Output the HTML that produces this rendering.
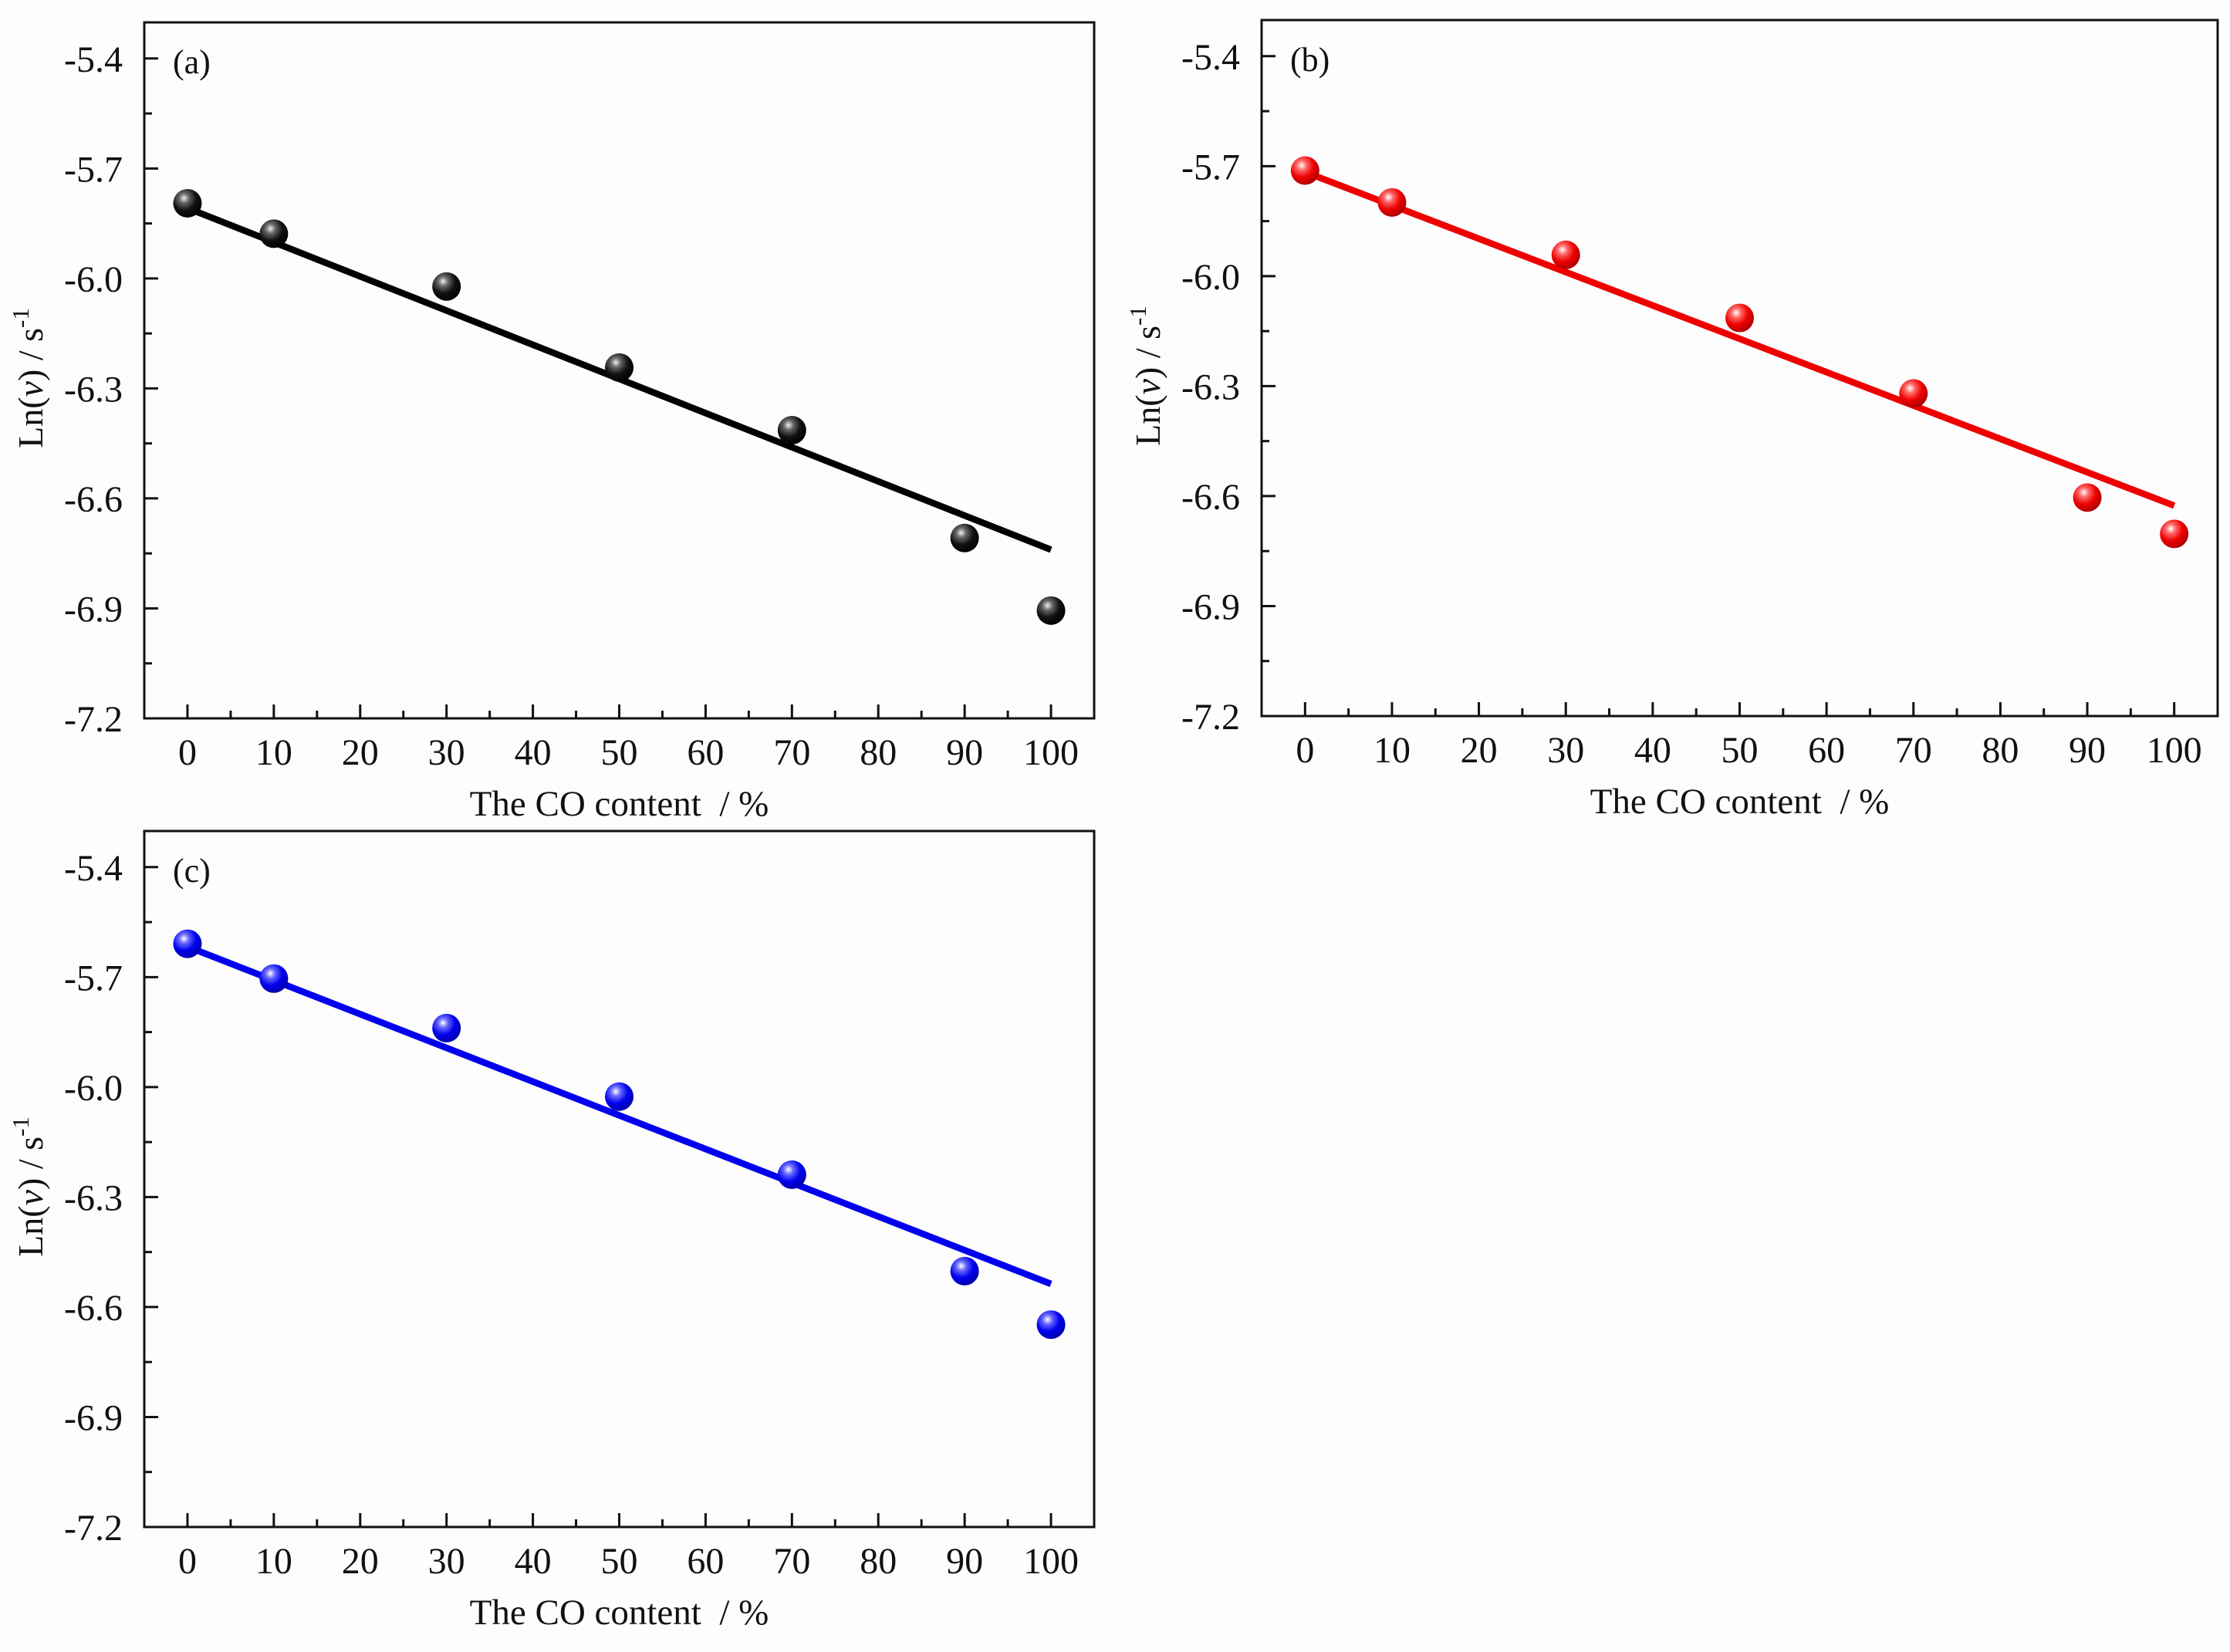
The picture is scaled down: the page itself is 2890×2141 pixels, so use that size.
<!DOCTYPE html>
<html><head><meta charset="utf-8"><style>
html,body{margin:0;padding:0;background:#fdfdfd;}
svg{display:block;}
text{font-family:"Liberation Serif",serif;fill:#111;}
</style></head><body>
<svg id="fig" width="2890" height="2141" viewBox="0 0 2890 2141">
<defs>
<radialGradient id="gk" cx="0.38" cy="0.32" r="0.7"><stop offset="0" stop-color="#eee"/><stop offset="0.25" stop-color="#666"/><stop offset="0.6" stop-color="#111"/><stop offset="1" stop-color="#000"/></radialGradient>
<radialGradient id="gr" cx="0.38" cy="0.32" r="0.7"><stop offset="0" stop-color="#fff"/><stop offset="0.25" stop-color="#ff6666"/><stop offset="0.6" stop-color="#ee0000"/><stop offset="1" stop-color="#aa0000"/></radialGradient>
<radialGradient id="gb" cx="0.38" cy="0.32" r="0.7"><stop offset="0" stop-color="#fff"/><stop offset="0.25" stop-color="#6666ff"/><stop offset="0.6" stop-color="#0000ee"/><stop offset="1" stop-color="#0000aa"/></radialGradient>
</defs>
</svg>
<script>
const xCats = [0, 10, 30, 50, 70, 90, 100];
const xTicks = [0, 10, 20, 30, 40, 50, 60, 70, 80, 90, 100];
const yTicks = [-5.4, -5.7, -6.0, -6.3, -6.6, -6.9, -7.2];
const seriesA = [-5.795, -5.878, -6.022, -6.243, -6.414, -6.708, -6.906];
const seriesB = [-5.712, -5.799, -5.942, -6.114, -6.32, -6.604, -6.703];
const seriesC = [-5.609, -5.704, -5.839, -6.026, -6.239, -6.502, -6.648];
const fitA = [-5.808, -6.74];
const fitB = [-5.716, -6.626];
const fitC = [-5.617, -6.537];

const NS = "http://www.w3.org/2000/svg";
const svg = document.getElementById('fig');
function mk(tag, attrs, parent){const e=document.createElementNS(NS,tag);for(const k in attrs)e.setAttribute(k,attrs[k]);(parent||svg).appendChild(e);return e;}

function panel(p){
  const g = mk('g',{});
  
  
  const xmin=-5,xmax=105,ymin=-7.2,ymax=-5.3015;
  const X=v=>p.l+(v-xmin)/(xmax-xmin)*(p.r-p.l);
  const Y=v=>p.b-(v-ymin)/(ymax-ymin)*(p.b-p.t);
  const frame = mk('rect',{x:p.l,y:p.t,width:p.r-p.l,height:p.b-p.t,fill:'none',stroke:'#111','stroke-width':3},g);
  
  
  xTicks.forEach(v=>{
    mk('line',{x1:X(v),x2:X(v),y1:p.b,y2:p.b-18,stroke:'#111','stroke-width':3},g);
    const m=v+5; if(m<105) mk('line',{x1:X(m),x2:X(m),y1:p.b,y2:p.b-10,stroke:'#111','stroke-width':3},g);
    const t=mk('text',{x:X(v),y:p.b+60,'text-anchor':'middle','font-size':48},g);
    t.textContent=v;
    
    
  });
  yTicks.forEach(v=>{
    mk('line',{x1:p.l,x2:p.l+18,y1:Y(v),y2:Y(v),stroke:'#111','stroke-width':3},g);
    const m=v-0.15; if(m>-7.2) mk('line',{x1:p.l,x2:p.l+10,y1:Y(m),y2:Y(m),stroke:'#111','stroke-width':3},g);
    const t=mk('text',{x:p.l-28,y:Y(v)+17,'text-anchor':'end','font-size':48},g);
    t.textContent=v.toFixed(1);
    
    
  });
  const xt=mk('text',{x:(p.l+p.r)/2,y:p.b+126,'text-anchor':'middle','font-size':47},g);
  xt.textContent='The CO content\u00a0\u00a0/ %';
  
  
  const cy=(p.t+p.b)/2+10;
  const yt=mk('text',{x:0,y:0,'text-anchor':'middle','font-size':46,transform:`translate(${p.l-132},${cy}) rotate(-90)`},g);
  yt.innerHTML='Ln(<tspan font-style="italic">v</tspan>) / s<tspan dy="-18" font-size="31">-1</tspan>';
  
  
  const lb=mk('text',{x:p.l+37,y:p.t+66,'font-size':44},g);
  lb.textContent='('+p.id+')';
  
  
  const fl=mk('line',{x1:X(0),y1:Y(p.fit[0]),x2:X(100),y2:Y(p.fit[1]),stroke:p.color,'stroke-width':8.5},g);
  
  
  xCats.forEach((c,i)=>{
    const pt=mk('circle',{cx:X(c),cy:Y(p.data[i]),r:18.5,fill:`url(#${p.grad})`},g);
    
    
  });
}
panel({id:'a',l:187,r:1418,t:29,b:931,data:seriesA,fit:fitA,color:'#000',grad:'gk'});
panel({id:'b',l:1635,r:2874,t:26,b:928,data:seriesB,fit:fitB,color:'#ee0000',grad:'gr'});
panel({id:'c',l:187,r:1418,t:1077,b:1979,data:seriesC,fit:fitC,color:'#0000ee',grad:'gb'});
</script>
</body></html>
